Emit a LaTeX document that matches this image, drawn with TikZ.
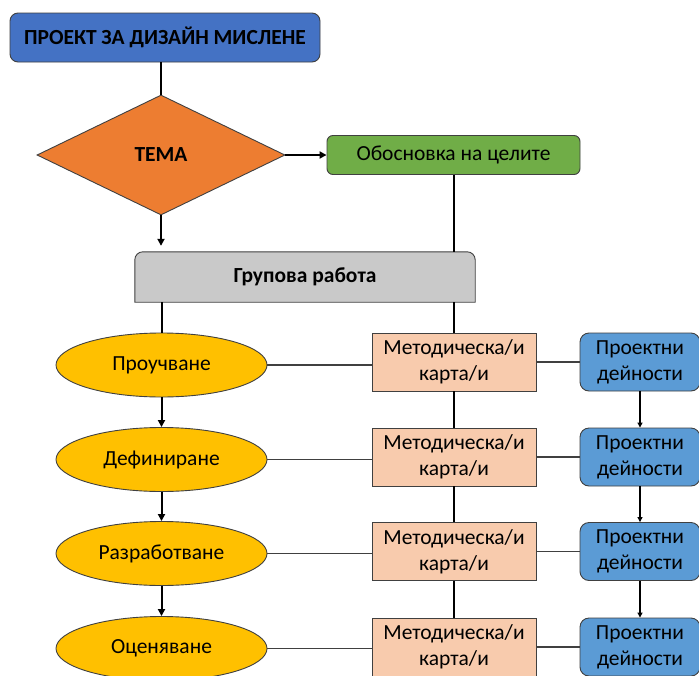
\documentclass[tikz,border=0pt]{standalone}
\usepackage{fontspec}
\setmainfont{Carlito}
\usetikzlibrary{shapes.geometric,arrows.meta,calc}
\definecolor{cTitle}{HTML}{4472C4}
\definecolor{cTema}{HTML}{ED7D31}
\definecolor{cGoal}{HTML}{70AD47}
\definecolor{cGroup}{HTML}{C9C9C9}
\definecolor{cEll}{HTML}{FFC000}
\definecolor{cMeth}{HTML}{F8CBAD}
\definecolor{cAct}{HTML}{5B9BD5}
\definecolor{cBorder}{HTML}{404040}
\tikzset{
  base/.style={inner sep=0pt, align=center, font=\fontsize{21.5}{26}\selectfont, text=black},
  titlebox/.style={base, draw=cBorder, line width=0.9pt, fill=cTitle, rounded corners=8pt, minimum width=310pt, minimum height=49pt, font=\fontsize{21.5}{26}\selectfont\bfseries},
  temabox/.style={base, diamond, draw=cBorder, line width=0.9pt, fill=cTema, minimum width=248pt, minimum height=120pt, font=\fontsize{21.5}{26}\selectfont\bfseries},
  goalbox/.style={base, draw=cBorder, line width=0.9pt, fill=cGoal, rounded corners=6pt, minimum width=253pt, minimum height=39pt},
  groupbox/.style={base, minimum width=340pt, minimum height=50pt, font=\fontsize{21.5}{26}\selectfont\bfseries},
  stagebox/.style={base, ellipse, draw=cBorder, line width=0.9pt, fill=cEll, minimum width=211pt, minimum height=64pt},
  methbox/.style={base, draw=cBorder, line width=0.9pt, fill=cMeth, minimum width=164pt, minimum height=58pt},
  actbox/.style={base, draw=cBorder, line width=0.9pt, fill=cAct, rounded corners=9pt, minimum width=120pt, minimum height=58pt},
  thickline/.style={line width=2pt, black},
  thickarrow/.style={line width=2pt, black, -{Triangle[length=7pt,width=7pt]}},
  thinline/.style={line width=1.1pt, cBorder},
  thinarrow/.style={line width=1.1pt, black, -{Triangle[length=5pt,width=5pt]}}
}
\begin{document}
\begin{tikzpicture}[x=1pt,y=-1pt]
\useasboundingbox (0,0) rectangle (699,675);
\clip (0,0) rectangle (699,675);
\fill[white] (0,0) rectangle (699,675);

\node[titlebox] (title) at (165,37.5) {ПРОЕКТ ЗА ДИЗАЙН МИСЛЕНЕ};
\node[temabox] (tema) at (161,155) {ТЕМА};
\node[goalbox] (goal) at (453.5,155) {Обосновка на целите};
\node[groupbox] (group) at (305,277) {};
\path[draw=cBorder, line width=0.9pt, fill=cGroup]
  (group.south west) -- ([yshift=-8pt]group.north west)
  arc[start angle=180, end angle=90, radius=8pt]
  -- ([xshift=-8pt]group.north east)
  arc[start angle=90, end angle=0, radius=8pt]
  -- (group.south east) -- cycle;
\node[groupbox] at (group.center) {Групова работа};

\node[stagebox] (e1) at (161.5,365) {Проучване};
\node[stagebox] (e2) at (161.5,459.5) {Дефиниране};
\node[stagebox] (e3) at (161.5,553.5) {Разработване};
\node[stagebox] (e4) at (161.5,648.5) {Оценяване};

\node[methbox] (m1) at (454,362) {Методическа/и\\карта/и};
\node[methbox] (m2) at (454,457) {Методическа/и\\карта/и};
\node[methbox] (m3) at (454,551.5) {Методическа/и\\карта/и};
\node[methbox] (m4) at (454,647) {Методическа/и\\карта/и};

\node[actbox] (b1) at (640,362) {Проектни\\дейности};
\node[actbox] (b2) at (640,457) {Проектни\\дейности};
\node[actbox] (b3) at (640,551.5) {Проектни\\дейности};
\node[actbox] (b4) at (640,647) {Проектни\\дейности};

\draw[thickline] (tema.north |- title.south) -- (tema.north);
\draw[thickarrow] (tema.east) -- (tema.east -| goal.west);
\draw[thickarrow, shorten >=6pt] (tema.south) -- (tema.south |- group.north);
\draw[thickline] (goal.south) -- (goal.south |- group.north);
\draw[thickline] (e1.north |- group.south) -- (e1.north);
\draw[thickline] (m1.north |- group.south) -- (m1.north);

\draw[thickarrow] (e1) -- (e2);
\draw[thickarrow] (e2) -- (e3);
\draw[thickarrow] (e3) -- (e4);

\draw[thickline] (m1) -- (m2);
\draw[thickline] (m2) -- (m3);
\draw[thickline] (m3) -- (m4);

\draw[thinarrow] (b1) -- (b2);
\draw[thinarrow] (b2) -- (b3);
\draw[thinarrow] (b3) -- (b4);

\foreach \i in {1,2,3,4}{
  \draw[thinline] (e\i.east) -- (m\i.west |- e\i.east);
  \draw[thinline] (m\i.east) -- (b\i.west);
}
\end{tikzpicture}
\end{document}
